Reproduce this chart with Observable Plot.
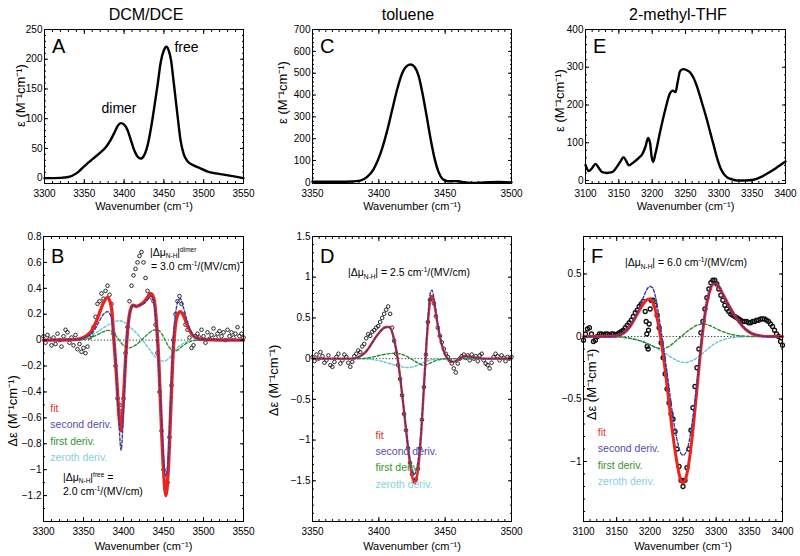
<!DOCTYPE html>
<html><head><meta charset="utf-8">
<script src="https://cdn.jsdelivr.net/npm/d3@7"></script>
<script src="https://cdn.jsdelivr.net/npm/@observablehq/plot@0.6"></script>
<style>
html,body{margin:0;padding:0;background:#fff;}
#root{position:relative;width:800px;height:556px;overflow:hidden;font-family:"Liberation Sans",Arial,Helvetica,sans-serif;color:#000;}
.title{position:absolute;font-size:16px;transform:translate(-50%,-50%);white-space:nowrap;}
.note{position:absolute;font-size:10.5px;white-space:nowrap;line-height:1;transform:translateY(-50%);}
.note .sb{font-size:6.5px;position:relative;top:2.5px;}
.note .sp{font-size:6.5px;position:relative;top:-4px;}
</style></head><body><div id="root"></div>
<script>
// ---------- titles / labels ----------
const solventTitles = ["DCM/DCE", "toluene", "2-methyl-THF"];
const panelLetters = ["A", "B", "C", "D", "E", "F"];
const xAxisLabel = "Wavenumber (cm\u207B\u00B9)";
const epsLabel = "\u03B5 (M\u207B\u00B9cm\u207B\u00B9)";
const dEpsLabel = "\u0394\u03B5 (M\u207B\u00B9cm\u207B\u00B9)";
const legendLabels = ["fit", "second deriv.", "first deriv.", "zeroth deriv."];
const dipoleValues = ["3.0", "2.0", "2.5", "6.0"];

// ---------- tick labels ----------
const ticksA_x = [3300, 3350, 3400, 3450, 3500, 3550];
const ticksA_y = [0, 50, 100, 150, 200, 250];
const ticksC_x = [3350, 3400, 3450, 3500];
const ticksC_y = [0, 100, 200, 300, 400, 500, 600, 700];
const ticksE_x = [3100, 3150, 3200, 3250, 3300, 3350, 3400];
const ticksE_y = [0, 100, 200, 300, 400];
const ticksB_y = [-1.2, -1, -0.8, -0.6, -0.4, -0.2, 0, 0.2, 0.4, 0.6, 0.8];
const ticksD_y = [-1.5, -1, -0.5, 0, 0.5, 1, 1.5];
const ticksF_y = [-1, -0.5, 0, 0.5];

// ---------- panel A: DCM/DCE absorption ----------
const dcmWave = [3300,3320,3330,3340,3346,3355,3363,3370,3377,3383,3388,3392,3396,3400,3404,3409,3413,3417,3421,3425,3430,3434,3438,3442,3446,3450,3453,3456,3459,3462,3465,3468,3471,3475,3480,3488,3495,3505,3515,3525,3538,3550];
const dcmEps  = [0,0.5,2,8,15,26,35,43,52,64,77,88,92.5,90,82,62,46,36,33,38,58,86,120,156,195,215,221,215,198,165,130,95,63,40,28,21,17,11,8,6,3,0];

// ---------- panel C: toluene absorption ----------
const tolWave = [3350,3370,3380,3386,3391,3396,3401,3406,3410,3414,3418,3421,3424,3427,3430,3433,3436,3439,3442,3445,3448,3452,3456,3460,3465,3470,3480,3490,3500];
const tolEps  = [3,3,4,8,24,60,128,230,330,430,505,532,540,528,488,405,305,200,110,48,16,5,6,5,0,-2,0,2,0];

// ---------- panel E: 2-methyl-THF absorption ----------
const thfWave = [3100,3105,3110,3115,3120,3125,3132,3140,3147,3153,3157,3161,3165,3172,3180,3186,3190,3194,3197,3199,3201.5,3205,3212,3220,3227,3231,3235,3238,3242,3247,3252,3257,3262,3267,3272,3277,3282,3287,3292,3297,3302,3307,3312,3320,3327,3340,3352,3362,3372,3385,3400];
const thfEps  = [41,25,33,44,33,22,20,22,36,52,62,52,40,48,60,72,90,113,98,65,49,72,130,190,232,238,234,258,290,295,292,286,272,250,222,192,162,128,95,62,35,18,9,3,0,0,2,8,18,32,50];

// ---------- panel B: DCM/DCE Stark spectrum ----------
const bWave   = [3300,3340,3350,3355,3360,3365,3370,3375,3380,3385,3388,3391,3394,3397,3400,3403,3406,3409,3412,3416,3420,3425,3430,3434,3438,3441,3444,3447,3450,3453,3456,3459,3462,3465,3468,3471,3475,3480,3485,3490,3500,3550];
const bFit    = [0,0.005,0.02,0.04,0.07,0.13,0.21,0.29,0.33,0.25,0.0,-0.25,-0.55,-0.70,-0.45,-0.1,0.13,0.24,0.27,0.26,0.27,0.29,0.33,0.36,0.32,0.15,-0.15,-0.6,-1.0,-1.2,-1.0,-0.55,-0.1,0.12,0.2,0.22,0.19,0.11,0.05,0.02,0.005,0];
const bSecond = [0,0.005,0.015,0.03,0.05,0.09,0.15,0.2,0.22,0.17,0.02,-0.25,-0.6,-0.85,-0.55,-0.12,0.13,0.24,0.27,0.26,0.27,0.28,0.31,0.34,0.3,0.12,-0.18,-0.55,-0.9,-1.05,-0.9,-0.45,0.0,0.2,0.3,0.32,0.25,0.14,0.06,0.02,0.005,0];
const bFirst  = [0,0,0.005,0.01,0.02,0.035,0.05,0.065,0.075,0.07,0.055,0.03,0.005,-0.02,-0.04,-0.055,-0.06,-0.058,-0.05,-0.035,-0.015,0.015,0.045,0.065,0.078,0.08,0.075,0.055,0.025,-0.01,-0.045,-0.07,-0.085,-0.085,-0.075,-0.06,-0.04,-0.02,-0.008,-0.002,0,0];
const bZeroth = [0,0.005,0.015,0.025,0.04,0.055,0.075,0.095,0.115,0.13,0.14,0.147,0.15,0.148,0.142,0.13,0.115,0.098,0.08,0.055,0.028,-0.01,-0.05,-0.085,-0.115,-0.135,-0.15,-0.16,-0.162,-0.158,-0.145,-0.125,-0.1,-0.075,-0.055,-0.04,-0.025,-0.012,-0.005,-0.002,0,0];
const bDataWave = [3300,3302.5,3305,3307.5,3310,3312.5,3315,3317.5,3320,3322.5,3325,3327.5,3330,3332.5,3335,3337.5,3340,3342.5,3345,3347.5,3350,3352.5,3355,3357.5,3360,3362.5,3365,3367.5,3370,3372.5,3375,3377.5,3380,3382.5,3385,3387.5,3390,3392.5,3395,3397.5,3400,3402.5,3405,3407.5,3410,3412.5,3415,3417.5,3420,3422.5,3425,3427.5,3430,3432.5,3435,3437.5,3440,3442.5,3445,3447.5,3450,3452.5,3455,3457.5,3460,3462.5,3465,3467.5,3470,3472.5,3475,3477.5,3480,3482.5,3485,3487.5,3490,3492.5,3495,3497.5,3500,3502.5,3505,3507.5,3510,3512.5,3515,3517.5,3520,3522.5,3525,3527.5,3530,3532.5,3535,3537.5,3540,3542.5,3545,3547.5,3550];
const bDataVal  = [0.03,-0.02,0.04,0.01,-0.04,0.02,-0.03,0.05,0.0,-0.05,0.03,0.08,0.06,-0.02,0.02,-0.04,0.04,-0.07,-0.03,-0.09,-0.06,-0.1,-0.05,0.02,0.04,0.1,0.18,0.28,0.3,0.36,0.32,0.38,0.42,0.35,0.28,0.05,-0.2,-0.45,-0.5,-0.55,-0.45,-0.1,0.1,0.3,0.42,0.5,0.55,0.6,0.65,0.68,0.6,0.48,0.38,0.35,0.33,0.3,0.12,-0.1,-0.4,-0.7,-1.0,-1.15,-1.1,-0.75,-0.35,0.0,0.2,0.3,0.34,0.28,0.2,0.12,0.08,0.02,-0.06,-0.04,0.03,0.05,0.02,0.08,0.03,-0.02,0.06,0.01,0.04,0.09,0.02,0.05,0.07,0.03,0.06,0.0,0.08,0.03,0.06,0.02,0.05,0.1,0.03,0.05,0.02];

// ---------- panel D: toluene Stark spectrum ----------
const dWave   = [3350,3380,3386,3390,3394,3398,3402,3405,3408,3410,3412,3414,3416,3418,3420,3422,3424,3426,3427,3428,3430,3432,3434,3436,3438,3439,3440,3442,3444,3446,3448,3450,3453,3456,3460,3465,3470,3480,3500];
const dFit    = [0,0,0.03,0.08,0.17,0.27,0.35,0.39,0.39,0.33,0.2,0.02,-0.22,-0.5,-0.8,-1.1,-1.35,-1.5,-1.53,-1.5,-1.3,-0.9,-0.35,0.2,0.62,0.75,0.77,0.65,0.45,0.27,0.14,0.05,-0.02,-0.04,-0.01,0.03,0.02,0,0];
const dSecond = [0,0,0.03,0.08,0.17,0.27,0.35,0.38,0.38,0.32,0.19,0.02,-0.22,-0.49,-0.78,-1.06,-1.28,-1.4,-1.42,-1.38,-1.2,-0.85,-0.32,0.25,0.7,0.82,0.84,0.7,0.47,0.28,0.14,0.05,-0.02,-0.04,-0.01,0.03,0.02,0,0];
const dFirst  = [0,0,0,0.005,0.015,0.03,0.045,0.055,0.062,0.065,0.066,0.065,0.06,0.05,0.037,0.02,0.0,-0.02,-0.03,-0.04,-0.06,-0.075,-0.08,-0.075,-0.06,-0.052,-0.045,-0.03,-0.018,-0.01,-0.005,-0.002,0,0,0,0,0,0,0];
const dZeroth = [0,0,-0.001,-0.003,-0.008,-0.018,-0.032,-0.045,-0.06,-0.07,-0.08,-0.09,-0.098,-0.104,-0.108,-0.11,-0.108,-0.1,-0.095,-0.09,-0.075,-0.06,-0.045,-0.032,-0.02,-0.016,-0.012,-0.007,-0.003,-0.001,0,0,0,0,0,0,0,0,0];
const dDataWave = [3350,3351.5,3353,3354.5,3356,3357.5,3359,3360.5,3362,3363.5,3365,3366.5,3368,3369.5,3371,3372.5,3374,3375.5,3377,3378.5,3380,3381.5,3383,3384.5,3386,3387.5,3389,3390.5,3392,3393.5,3395,3396.5,3398,3399.5,3401,3402.5,3404,3405.5,3407,3408.5,3410,3411.5,3413,3414.5,3416,3417.5,3419,3420.5,3422,3423.5,3425,3426.5,3428,3429.5,3431,3432.5,3434,3435.5,3437,3438.5,3440,3441.5,3443,3444.5,3446,3447.5,3449,3450.5,3452,3453.5,3455,3456.5,3458,3459.5,3461,3462.5,3464,3465.5,3467,3468.5,3470,3471.5,3473,3474.5,3476,3477.5,3479,3480.5,3482,3483.5,3485,3486.5,3488,3489.5,3491,3492.5,3494,3495.5,3497,3498.5,3500];
const dDataVal  = [0.02,-0.03,0.05,0.0,0.08,0.03,-0.05,-0.02,0.04,-0.08,-0.1,-0.04,0.02,0.06,-0.06,-0.02,0.05,0.02,-0.05,-0.1,-0.04,0.03,0.06,0.1,0.08,0.15,0.18,0.25,0.3,0.28,0.33,0.35,0.38,0.4,0.45,0.5,0.55,0.6,0.64,0.55,0.38,0.22,0.06,-0.08,-0.25,-0.45,-0.68,-0.88,-1.1,-1.28,-1.42,-1.5,-1.48,-1.35,-1.1,-0.75,-0.35,0.05,0.45,0.72,0.75,0.68,0.52,0.38,0.28,0.2,0.12,0.06,0.02,-0.02,-0.06,-0.12,-0.17,-0.06,0.0,0.03,0.05,0.01,0.04,-0.02,0.05,0.0,0.03,-0.03,0.04,0.06,-0.02,-0.06,-0.08,-0.12,-0.05,0.02,0.06,0.03,-0.02,0.04,0.01,-0.03,0.02,0.0,0.02];

// ---------- panel F: 2-methyl-THF Stark spectrum ----------
const fWave   = [3100,3140,3150,3160,3170,3180,3190,3196,3200,3204,3208,3212,3216,3220,3225,3230,3235,3240,3245,3250,3255,3260,3265,3270,3275,3280,3285,3290,3295,3300,3305,3310,3320,3330,3340,3350,3360,3370,3380,3400];
const fFit    = [0,0,0.005,0.025,0.08,0.17,0.26,0.295,0.3,0.28,0.22,0.12,0.0,-0.14,-0.35,-0.58,-0.8,-0.98,-1.12,-1.17,-1.12,-0.97,-0.75,-0.48,-0.2,0.05,0.24,0.36,0.42,0.42,0.39,0.34,0.24,0.15,0.08,0.035,0.012,0.003,0,0];
const fSecond = [0,0,0.005,0.025,0.08,0.18,0.31,0.38,0.4,0.39,0.33,0.22,0.08,-0.06,-0.25,-0.45,-0.65,-0.8,-0.91,-0.95,-0.92,-0.82,-0.64,-0.42,-0.17,0.07,0.24,0.36,0.42,0.42,0.39,0.34,0.24,0.15,0.08,0.035,0.012,0.003,0,0];
const fFirst  = [0,0,-0.002,-0.006,-0.014,-0.026,-0.042,-0.055,-0.065,-0.075,-0.085,-0.092,-0.096,-0.097,-0.09,-0.075,-0.055,-0.032,-0.01,0.012,0.035,0.055,0.072,0.088,0.097,0.1,0.097,0.088,0.076,0.063,0.05,0.039,0.021,0.01,0.004,0.001,0,0,0,0];
const fZeroth = [0,0,-0.003,-0.008,-0.016,-0.028,-0.044,-0.057,-0.066,-0.077,-0.088,-0.1,-0.112,-0.125,-0.14,-0.158,-0.175,-0.19,-0.2,-0.207,-0.208,-0.2,-0.19,-0.175,-0.155,-0.133,-0.11,-0.088,-0.068,-0.05,-0.037,-0.027,-0.013,-0.005,-0.002,0,0,0,0,0];
const fDataWave = [3100,3103,3106,3109,3112,3115,3118,3121,3124,3127,3130,3133,3136,3139,3142,3145,3148,3151,3154,3157,3160,3163,3166,3169,3172,3175,3178,3181,3184,3187,3190,3193,3196,3199,3202,3205,3208,3211,3214,3217,3220,3223,3226,3229,3232,3235,3238,3241,3244,3247,3250,3253,3256,3259,3262,3265,3268,3271,3274,3277,3280,3283,3286,3289,3292,3295,3298,3301,3304,3307,3310,3313,3316,3319,3322,3325,3328,3331,3334,3337,3340,3343,3346,3349,3352,3355,3358,3361,3364,3367,3370,3373,3376,3379,3382,3385,3388,3391,3394,3397,3400,3194.5,3195.5,3197.5,3198,3200.5];
const fDataVal  = [-0.03,0.02,0.06,0.07,0.02,-0.04,-0.03,0.0,0.02,0.02,0.01,0.02,0.02,0.01,0.02,0.02,0.01,0.02,0.03,0.04,0.05,0.07,0.09,0.11,0.13,0.16,0.19,0.21,0.24,0.26,0.28,0.2,-0.08,0.1,0.29,0.29,0.25,0.17,0.07,-0.05,-0.17,-0.3,-0.42,-0.53,-0.62,-0.66,-0.76,-0.9,-1.04,-1.15,-1.2,-1.15,-1.05,-0.9,-0.75,-0.57,-0.4,-0.25,-0.1,0.03,0.12,0.22,0.31,0.38,0.43,0.45,0.45,0.42,0.38,0.33,0.29,0.25,0.22,0.2,0.18,0.17,0.16,0.15,0.14,0.13,0.12,0.12,0.12,0.11,0.11,0.12,0.12,0.13,0.13,0.14,0.14,0.14,0.13,0.12,0.1,0.08,0.05,0.02,0.0,-0.04,-0.07,0.12,0.02,-0.1,0.05,0.22];

// ---------- rendering ----------
const root = document.getElementById("root");
const FONT = '"Liberation Sans", Arial, Helvetica, sans-serif';
const C = {fit: "#e8251f", second: "#3d3a9c", first: "#2a8c2a", zeroth: "#62c6d6"};
const legendColors = ["#e8332a", "#554ea6", "#2f962f", "#86d0e0"];

function fmtTick(d) { const v = Math.round(d * 100) / 100; return (v < 0 ? "\u2212" : "") + Math.abs(v); }
function rangeIn(lo, hi, step) {
  const out = [];
  for (let k = Math.ceil(lo / step - 1e-9); k * step <= hi + 1e-9; k++) out.push(Math.round(k * step * 1000) / 1000);
  return out;
}
const blank = () => "";

function frameAxes(c) {
  const xm = rangeIn(c.xd[0], c.xd[1], c.xMinor), ym = rangeIn(c.yd[0], c.yd[1], c.yMinor);
  return [
    Plot.axisX(xm, {anchor: "bottom", tickSize: -2, tickFormat: blank, label: null}),
    Plot.axisX(xm, {anchor: "top", tickSize: -2, tickFormat: blank, label: null}),
    Plot.axisY(ym, {anchor: "left", tickSize: -2, tickFormat: blank, label: null}),
    Plot.axisY(ym, {anchor: "right", tickSize: -2, tickFormat: blank, label: null}),
    Plot.axisX(c.xTicks, {anchor: "top", tickSize: -4, tickFormat: blank, label: null}),
    Plot.axisY(c.yTicks, {anchor: "right", tickSize: -4, tickFormat: blank, label: null}),
    Plot.axisX(c.xTicks, {anchor: "bottom", tickSize: -4, tickPadding: 10.5, tickFormat: d => String(d), label: null, fontSize: 10}),
    Plot.axisY(c.yTicks, {anchor: "left", tickSize: -4, tickPadding: 6, tickFormat: fmtTick, label: null, fontSize: 10}),
    Plot.frame({stroke: "#000", strokeWidth: 1}),
    Plot.text([c.letter], {text: d => d, frameAnchor: "top-left", dx: 7.5, dy: c.letterDy, textAnchor: "start", lineAnchor: "top", fontSize: 20}),
    Plot.text([xAxisLabel], {text: d => d, frameAnchor: "bottom", dy: c.xlDy, lineAnchor: "middle", fontSize: 11}),
    Plot.text([c.yLabel], {text: d => d, frameAnchor: "left", rotate: -90, dx: c.ylDx, dy: c.ylDy, lineAnchor: "middle", textAnchor: "middle", fontSize: 13})
  ];
}

function draw(c) {
  const svg = Plot.plot({
    width: c.w, height: c.h,
    marginLeft: c.ml, marginRight: c.mr, marginTop: c.mt, marginBottom: c.mb,
    style: {fontFamily: FONT, fontSize: "10px", background: "transparent", color: "#000", overflow: "visible"},
    x: {domain: c.xd},
    y: {domain: c.yd},
    marks: [...c.marks, ...frameAxes(c)]
  });
  svg.style.position = "absolute";
  svg.style.left = c.left + "px";
  svg.style.top = c.top + "px";
  root.appendChild(svg);
}

function absRows(wave, eps) { return wave.map((w, i) => ({w, e: eps[i]})); }
function starkMarks(wave, fit, second, first, zeroth, dw, dv, st) {
  const rows = wave.map((w, i) => ({w, fit: fit[i], second: second[i], first: first[i], zeroth: zeroth[i]}));
  const pts = dw.map((w, i) => ({w, v: dv[i]}));
  const leg = legendLabels.map((t, i) => ({t, x: st.legX, y: st.legY[i], c: legendColors[i]}));
  return [
    Plot.ruleY([0], {stroke: "#000", strokeWidth: 0.8, strokeDasharray: "1.2,2"}),
    Plot.dot(pts, {x: "w", y: "v", r: st.r, stroke: "#111", strokeWidth: st.sw, fill: "none"}),
    Plot.line(rows, {x: "w", y: "zeroth", stroke: C.zeroth, strokeWidth: 1.4, strokeDasharray: "2.5,2", curve: "monotone-x"}),
    Plot.line(rows, {x: "w", y: "first", stroke: C.first, strokeWidth: 1.4, strokeDasharray: "3,2", curve: "monotone-x"}),
    Plot.line(rows, {x: "w", y: "fit", stroke: C.fit, strokeWidth: st.fitW, curve: "monotone-x"}),
    Plot.line(rows, {x: "w", y: "second", stroke: C.second, strokeWidth: 1.4, strokeDasharray: "3,2", curve: "monotone-x"}),
    Plot.text(leg, {x: "x", y: "y", text: "t", fill: "c", textAnchor: "start", fontSize: 10.5})
  ];
}

// Panel A
draw({left: 0, top: 20, w: 260, h: 200, ml: 44, mr: 17, mt: 9, mb: 37,
  xd: [3300, 3550], yd: [-9, 250], xTicks: ticksA_x, yTicks: ticksA_y, xMinor: 10, yMinor: 10,
  letter: panelLetters[0], letterDy: 9, xlDy: 23, yLabel: epsLabel, ylDx: -24, ylDy: -11,
  marks: [
    Plot.line(absRows(dcmWave, dcmEps), {x: "w", y: "e", stroke: "#000", strokeWidth: 2.4, curve: "monotone-x"}),
    Plot.text([{t: "dimer", x: 3393.6, y: 117.7}, {t: "free", x: 3478.4, y: 220.3}], {x: "x", y: "y", text: "t", fontSize: 14})
  ]});
// Panel C
draw({left: 262, top: 20, w: 262, h: 200, ml: 50, mr: 13, mt: 9, mb: 37,
  xd: [3350, 3500], yd: [-5, 700], xTicks: ticksC_x, yTicks: ticksC_y, xMinor: 5, yMinor: 20,
  letter: panelLetters[2], letterDy: 9, xlDy: 23, yLabel: epsLabel, ylDx: -30, ylDy: -14,
  marks: [Plot.line(absRows(tolWave, tolEps), {x: "w", y: "e", stroke: "#000", strokeWidth: 2.4, curve: "monotone-x"})]});
// Panel E
draw({left: 528, top: 20, w: 272, h: 200, ml: 57, mr: 15, mt: 9, mb: 37,
  xd: [3100, 3400], yd: [-8, 400], xTicks: ticksE_x, yTicks: ticksE_y, xMinor: 10, yMinor: 20,
  letter: panelLetters[4], letterDy: 9, xlDy: 23, yLabel: epsLabel, ylDx: -26, ylDy: -6,
  marks: [Plot.line(absRows(thfWave, thfEps), {x: "w", y: "e", stroke: "#000", strokeWidth: 2.4, curve: "monotone-x"})]});
// Panel B
draw({left: 0, top: 226, w: 260, h: 330, ml: 43, mr: 17, mt: 10, mb: 35,
  xd: [3300, 3550], yd: [-1.4, 0.8], xTicks: ticksA_x, yTicks: ticksB_y, xMinor: 10, yMinor: 0.1,
  letter: panelLetters[1], letterDy: 12, xlDy: 25, yLabel: dEpsLabel, ylDx: -31, ylDy: 32,
  marks: starkMarks(bWave, bFit, bSecond, bFirst, bZeroth, bDataWave, bDataVal,
    {r: 1.8, sw: 0.9, fitW: 3.4, legX: 3308.5, legY: [-0.528, -0.652, -0.783, -0.907]})});
// Panel D
draw({left: 262, top: 226, w: 262, h: 330, ml: 50, mr: 13, mt: 10, mb: 35,
  xd: [3350, 3500], yd: [-2, 1.5], xTicks: ticksC_x, yTicks: ticksD_y, xMinor: 5, yMinor: 0.1,
  letter: panelLetters[3], letterDy: 12, xlDy: 25, yLabel: dEpsLabel, ylDx: -39, ylDy: 1.5,
  marks: starkMarks(dWave, dFit, dSecond, dFirst, dZeroth, dDataWave, dDataVal,
    {r: 1.8, sw: 0.9, fitW: 2.4, legX: 3397.5, legY: [-0.944, -1.141, -1.341, -1.546]})});
// Panel F
draw({left: 528, top: 226, w: 272, h: 330, ml: 55, mr: 18, mt: 10, mb: 35,
  xd: [3100, 3400], yd: [-1.48, 0.8], xTicks: ticksE_x, yTicks: ticksF_y, xMinor: 10, yMinor: 0.1,
  letter: panelLetters[5], letterDy: 12, xlDy: 25, yLabel: dEpsLabel, ylDx: 8, ylDy: 5.5,
  marks: starkMarks(fWave, fFit, fSecond, fFirst, fZeroth, fDataWave, fDataVal,
    {r: 2, sw: 1.3, fitW: 3, legX: 3121.6, legY: [-0.766, -0.898, -1.032, -1.158]})});

// Titles
[[146, 15], [408, 15], [678, 15]].forEach((p, i) => {
  const d = document.createElement("div");
  d.className = "title"; d.style.left = p[0] + "px"; d.style.top = p[1] + "px";
  d.textContent = solventTitles[i];
  root.appendChild(d);
});
// Dipole annotations (rich text with sub/superscripts)
const mu = '|\u0394\u03BC<span class="sb">N-H</span>|';
const unit = v => v + ' cm<span class="sp">-1</span>/(MV/cm)';
const notes = [
  [150, 251.5, mu + '<span class="sp">dimer</span>'],
  [151, 265.5, '= ' + unit(dipoleValues[0])],
  [63, 476.5, mu + '<span class="sp">free</span> ='],
  [63, 491, unit(dipoleValues[1])],
  [348, 272, mu + ' = ' + unit(dipoleValues[2])],
  [625, 262, mu + ' = ' + unit(dipoleValues[3])]
];
notes.forEach(n => {
  const d = document.createElement("div");
  d.className = "note"; d.style.left = n[0] + "px"; d.style.top = n[1] + "px";
  d.innerHTML = n[2];
  root.appendChild(d);
});
</script></body></html>
